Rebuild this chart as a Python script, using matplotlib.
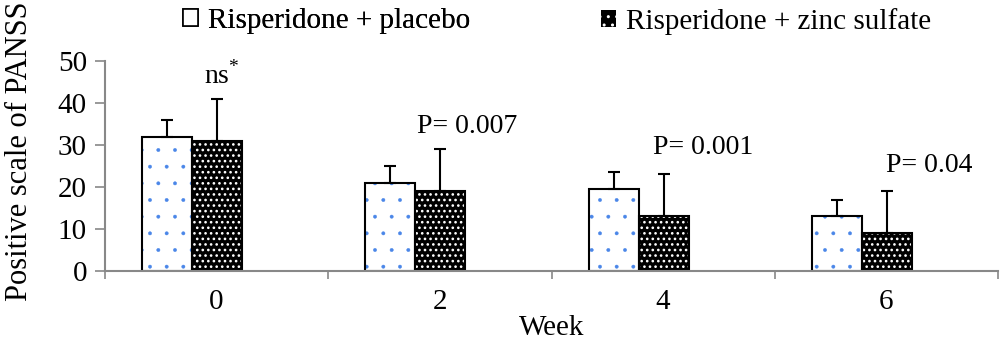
import matplotlib
matplotlib.use("Agg")
import matplotlib.pyplot as plt
from matplotlib.patches import Patch
import numpy as np

weeks = ["0", "2", "4", "6"]
placebo_mean = [32, 21, 19.5, 13]
placebo_sd = [4, 4, 4, 4]
zinc_mean = [31, 19, 13, 9]
zinc_sd = [10, 10, 10, 10]
annotations = ["ns$^{*}$", "P= 0.007", "P= 0.001", "P= 0.04"]
annot_y = [46.5, 34.5, 29.5, 25.2]

plt.rcParams["font.family"] = ["Liberation Serif", "DejaVu Serif"]
plt.rcParams["mathtext.fontset"] = "custom"
plt.rcParams["mathtext.rm"] = "Liberation Serif"
FS = 21

fig = plt.figure(figsize=(10, 3.64), dpi=100)
ax = fig.add_axes([0.105, 0.2555, 0.893, 0.5769])

x = np.arange(len(weeks))
w = 0.224
xp = x - 0.11 - w / 2
xz = x - 0.11 + w / 2

# placebo: white with sparse blue dots
with plt.rc_context({"hatch.linewidth": 0.3}):
    ax.bar(xp, placebo_mean, width=w, color="white", edgecolor="#4a86e8", hatch=".", linewidth=0)
ax.bar(xp, placebo_mean, width=w, fill=False, edgecolor="black", linewidth=1.5)
# zinc: black with white checks
with plt.rc_context({"hatch.linewidth": 1.1}):
    ax.bar(xz, zinc_mean, width=w, color="black", edgecolor="white", hatch="...", linewidth=0)
ax.bar(xz, zinc_mean, width=w, fill=False, edgecolor="black", linewidth=1.5)

ax.errorbar(xp, placebo_mean, yerr=[[0] * 4, placebo_sd], fmt="none", ecolor="black",
            elinewidth=1.5, capsize=4, capthick=1.5)
ax.errorbar(xz, zinc_mean, yerr=[[0] * 4, zinc_sd], fmt="none", ecolor="black",
            elinewidth=1.5, capsize=4, capthick=1.5)

annot_x = [xz[0] + 0.02, x[1] + 0.12, x[2] + 0.18, x[3] + 0.19]
for ax_x, ay, t in zip(annot_x, annot_y, annotations):
    ax.text(ax_x, ay, t, ha="center", va="center", fontsize=FS - 1)

ax.set_xlim(-0.5, 3.5)
ax.set_ylim(0, 50)
ax.set_yticks([0, 10, 20, 30, 40, 50])
ax.set_xticks(x)
ax.set_xticklabels(weeks)
ax.set_xticks(np.arange(-0.5, 4, 1), minor=True)
ax.tick_params(axis="x", which="major", length=0, labelsize=FS, pad=13)
ax.tick_params(axis="x", which="minor", length=6, color="#888888", width=1.2)
ax.tick_params(axis="y", length=7, color="#888888", width=1.2, labelsize=FS, pad=6)
for s in ["top", "right"]:
    ax.spines[s].set_visible(False)
for s in ["left", "bottom"]:
    ax.spines[s].set_color("#888888")
    ax.spines[s].set_linewidth(1.5)

ax.set_xlabel("Week", fontsize=FS, labelpad=0)
ax.set_ylabel("Positive scale of PANSS", fontsize=FS + 1)
ax.yaxis.set_label_coords(-0.08, 0.57)

with plt.rc_context({"hatch.linewidth": 1.0}):
    h_placebo = Patch(facecolor="white", edgecolor="black", linewidth=1.2)
    h_zinc = Patch(facecolor="black", edgecolor="white", hatch="..", linewidth=0)

leg_kw = dict(loc="upper left", frameon=False, fontsize=FS, borderpad=0, borderaxespad=0,
              handlelength=0.5, handleheight=0.5, handletextpad=0.35)
leg1 = fig.legend([h_placebo], ["Risperidone + placebo"], bbox_to_anchor=(0.183, 0.978), **leg_kw)
fig.add_artist(leg1)
fig.legend([h_zinc], ["Risperidone + zinc sulfate"], bbox_to_anchor=(0.601, 0.978), **leg_kw)

fig.savefig("out.png", dpi=100)
